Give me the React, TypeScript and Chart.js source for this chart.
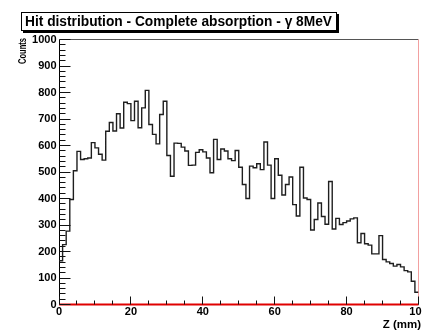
import React, { useEffect, useRef } from 'react';
import { Chart, registerables } from 'chart.js';

Chart.register(...registerables);

const TITLE = 'Hit distribution - Complete absorption - γ 8MeV';
const X_TITLE = 'Z (mm)';
const Y_TITLE = 'Counts';

const X_MIN = 0;
const X_MAX = 100;
const Y_MIN = 0;
const Y_MAX = 1000;
const BIN_WIDTH = 1;

// counts per 1 mm bin, Z = 0 .. 100 mm
const COUNTS = [
  165, 226, 277, 396, 505, 578, 547, 550, 553, 611,
  591, 567, 545, 654, 687, 655, 720, 666, 763, 758,
  694, 767, 667, 742, 808, 679, 642, 606, 717, 767,
  562, 484, 609, 608, 594, 579, 525, 526, 574, 584,
  576, 553, 497, 623, 547, 587, 579, 550, 543, 581,
  518, 453, 400, 522, 516, 531, 509, 613, 526, 400,
  550, 488, 413, 453, 481, 377, 334, 518, 402, 396,
  281, 321, 383, 332, 303, 464, 285, 325, 302, 309,
  315, 323, 327, 233, 268, 229, 224, 191, 191, 260,
  170, 161, 155, 145, 151, 142, 128, 123, 88, 46,
];

const X_TICKS = [0, 20, 40, 60, 80, 100];
const Y_TICKS = [0, 100, 200, 300, 400, 500, 600, 700, 800, 900, 1000];
const X_MINOR_STEP = 5;
const Y_MINOR_STEP = 20;

const FONT = '"Liberation Sans", Arial, Helvetica, sans-serif';

const crisp = (v: number) => Math.floor(v) + 0.5;

const rootFrame = {
  id: 'rootFrame',
  beforeDatasetsDraw(chart: any) {
    const { ctx, chartArea: a } = chart;
    ctx.save();
    ctx.lineWidth = 1;
    ctx.strokeStyle = '#555';
    ctx.beginPath();
    ctx.moveTo(crisp(a.left), crisp(a.top));
    ctx.lineTo(crisp(a.right), crisp(a.top));
    ctx.stroke();
    ctx.strokeStyle = '#f2a0a0';
    ctx.beginPath();
    ctx.moveTo(crisp(a.right), crisp(a.top));
    ctx.lineTo(crisp(a.right), crisp(a.bottom));
    ctx.stroke();
    ctx.strokeStyle = '#000';
    ctx.beginPath();
    ctx.moveTo(crisp(a.left), crisp(a.top));
    ctx.lineTo(crisp(a.left), crisp(a.bottom));
    ctx.lineTo(crisp(a.right), crisp(a.bottom));
    ctx.stroke();
    ctx.restore();
  },
  afterDatasetsDraw(chart: any) {
    const { ctx, chartArea: a, scales } = chart;
    const xs = scales.x;
    const ys = scales.y;
    ctx.save();
    ctx.strokeStyle = '#111';
    ctx.lineWidth = 1;
    ctx.beginPath();
    for (let v = Y_MIN; v <= Y_MAX + 1e-6; v += Y_MINOR_STEP) {
      const y = crisp(ys.getPixelForValue(v));
      const len = Y_TICKS.includes(v) ? 11 : 6;
      ctx.moveTo(crisp(a.left), y);
      ctx.lineTo(crisp(a.left) + len, y);
    }
    for (let v = X_MIN; v <= X_MAX + 1e-6; v += X_MINOR_STEP) {
      const x = crisp(xs.getPixelForValue(v));
      const len = X_TICKS.includes(v) ? 8 : 4;
      ctx.moveTo(x, crisp(a.bottom));
      ctx.lineTo(x, crisp(a.bottom) - len);
    }
    ctx.stroke();
    ctx.restore();
  },
  afterDraw(chart: any) {
    const { ctx } = chart;
    ctx.save();
    // title box
    const bx = 21, by = 12, bw = 316, bh = 19;
    ctx.fillStyle = '#000';
    ctx.fillRect(bx + 2, by + bh, bw, 2);
    ctx.fillRect(bx + bw, by + 2, 2, bh);
    ctx.fillStyle = '#fff';
    ctx.fillRect(bx, by, bw, bh);
    ctx.strokeStyle = '#000';
    ctx.lineWidth = 1;
    ctx.strokeRect(bx + 0.5, by + 0.5, bw - 1, bh - 1);
    ctx.fillStyle = '#000';
    ctx.font = `bold 14px ${FONT}`;
    ctx.textAlign = 'left';
    ctx.textBaseline = 'alphabetic';
    ctx.fillText(TITLE, 25, 26, 307);

    // x axis title
    ctx.font = `bold 11.5px ${FONT}`;
    ctx.textAlign = 'right';
    ctx.fillText(X_TITLE, 421, 328);

    // y axis title
    ctx.translate(26, 38);
    ctx.rotate(-Math.PI / 2);
    ctx.font = `bold 11px ${FONT}`;
    ctx.textAlign = 'right';
    ctx.textBaseline = 'alphabetic';
    ctx.fillText(Y_TITLE, 0, 0, 26);
    ctx.restore();
  },
};

export default function App() {
  const ref = useRef<HTMLCanvasElement | null>(null);

  useEffect(() => {
    if (!ref.current) return;
    const hist = COUNTS.map((v, i) => ({ x: X_MIN + i * BIN_WIDTH, y: v }));
    hist.push({ x: X_MIN + COUNTS.length * BIN_WIDTH, y: COUNTS[COUNTS.length - 1] });

    const chart = new Chart(ref.current, {
      type: 'line',
      data: {
        datasets: [
          {
            data: hist,
            stepped: 'before',
            borderColor: '#1e1e1e',
            borderWidth: 1.4,
            pointRadius: 0,
            fill: false,
          },
          {
            data: [
              { x: X_MIN, y: 0 },
              { x: X_MAX, y: 0 },
            ],
            borderColor: '#e00000',
            borderWidth: 2.2,
            pointRadius: 0,
            fill: false,
            clip: false,
          },
        ],
      },
      plugins: [rootFrame],
      options: {
        responsive: false,
        devicePixelRatio: 1,
        animation: false,
        events: [],
        layout: { padding: { top: 39.5, right: 3.5, left: 0, bottom: 0 } },
        plugins: { legend: { display: false }, tooltip: { enabled: false }, title: { display: false } },
        scales: {
          x: {
            type: 'linear',
            min: X_MIN,
            max: X_MAX,
            grid: { display: false, drawTicks: false },
            border: { display: false },
            afterBuildTicks: (s: any) => {
              s.ticks = X_TICKS.map((v) => ({ value: v }));
            },
            afterFit: (s: any) => {
              s.height = 31.5;
              s.paddingLeft = 0;
              s.paddingRight = 0;
            },
            ticks: {
              autoSkip: false,
              maxRotation: 0,
              padding: 1,
              color: '#000',
              font: { family: FONT, size: 11, weight: 'bold' },
              callback: (v: any) => String(v),
            },
          },
          y: {
            type: 'linear',
            min: Y_MIN,
            max: Y_MAX,
            grid: { display: false, drawTicks: false },
            border: { display: false },
            afterBuildTicks: (s: any) => {
              s.ticks = Y_TICKS.map((v) => ({ value: v }));
            },
            afterFit: (s: any) => {
              s.width = 59;
              s.paddingTop = 0;
              s.paddingBottom = 0;
            },
            ticks: {
              autoSkip: false,
              padding: 2.5,
              color: '#000',
              font: { family: FONT, size: 11, weight: 'bold' },
              callback: (v: any) => String(v),
            },
          },
        },
      },
    } as any);
    return () => chart.destroy();
  }, []);

  return (
    <div style={{ position: 'fixed', left: 0, top: 0, width: 422, height: 336, background: '#fff' }}>
      <canvas ref={ref} width={422} height={336} style={{ display: 'block', width: 422, height: 336 }} />
    </div>
  );
}
